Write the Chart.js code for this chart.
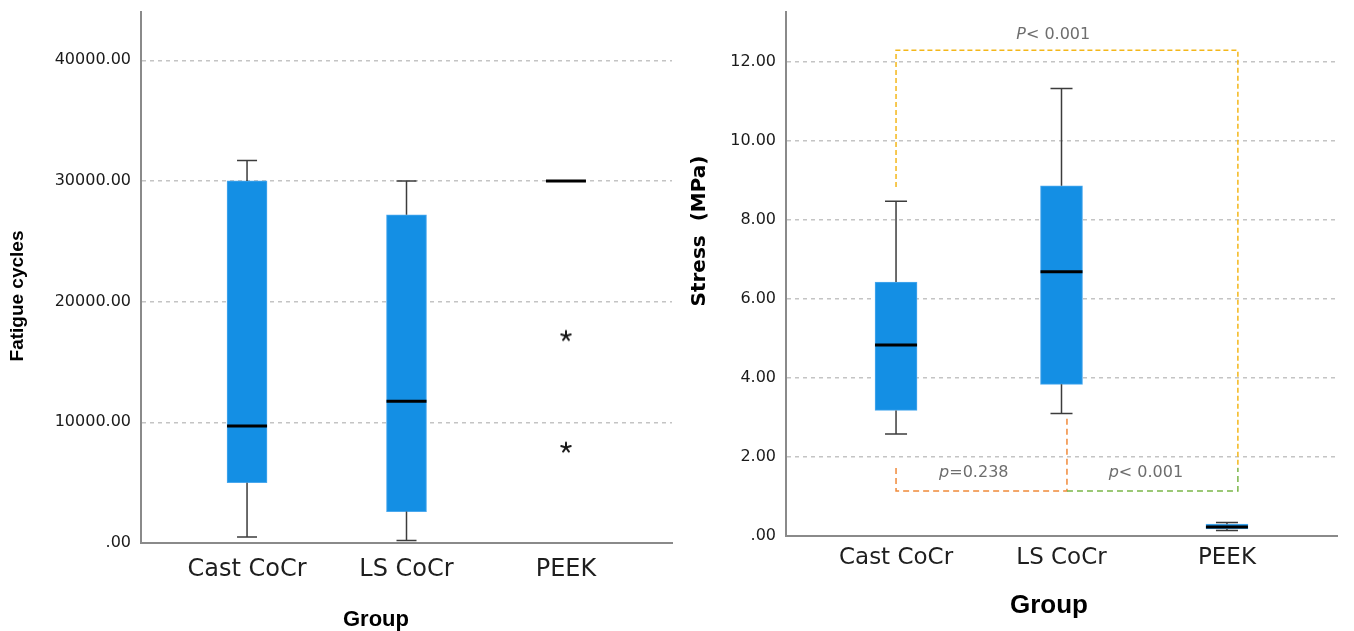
<!DOCTYPE html>
<html>
<head>
<meta charset="utf-8">
<script src="https://cdn.jsdelivr.net/npm/chart.js@4.4.1/dist/chart.umd.min.js"></script>
<style>
    html, body { margin: 0; padding: 0; background: #fff; }
    #wrap { position: relative; width: 1354px; height: 631px; overflow: hidden; }
    #left { position: absolute; left: 0; top: 0; }
    #right { position: absolute; left: 680px; top: 0; }
</style>
</head>
<body>
<div id="wrap">
    <canvas id="left" width="680" height="631" style="width:680px;height:631px"></canvas>
    <canvas id="right" width="674" height="631" style="width:674px;height:631px"></canvas>
</div>
<script>
const groups = ['Cast CoCr', 'LS CoCr', 'PEEK'];

// fatigue cycles (left panel)
const cycMin = [500, 200, 30000];
const cycQ1 = [5000, 2600, 30000];
const cycMedian = [9700, 11750, 30000];
const cycQ3 = [30000, 27200, 30000];
const cycMax = [31700, 30000, 30000];
const cycOutliers = [[], [], [17200, 7950]];
const cycTicks = [0, 10000, 20000, 30000, 40000];

// stress in MPa (right panel)
const stressMin = [2.58, 3.10, 0.14];
const stressQ1 = [3.18, 3.84, 0.18];
const stressMedian = [4.84, 6.69, 0.23];
const stressQ3 = [6.43, 8.87, 0.30];
const stressMax = [8.48, 11.33, 0.34];
const stressTicks = [0, 2, 4, 6, 8, 10, 12];

// significance brackets, in axis units (x = group index, y = MPa)
const brackets = [
    { color: '#f4b71a', dash: [5, 3], pts: [[1, 8.84], [1, 12.3], [3.066, 12.3], [3.066, 1.72]] },
    { color: '#f08a3a', dash: [6, 4], pts: [[1, 1.72], [1, 1.14], [2.033, 1.14], [2.033, 2.99]] },
    { color: '#7ab648', dash: [6, 4], pts: [[2.033, 1.14], [3.066, 1.14], [3.066, 1.72]] }
];
const pLabels = [
    { it: 'P', rest: '< 0.001', x: 1.95, y: 12.68 },
    { it: 'p', rest: '=0.238', x: 1.47, y: 1.6 },
    { it: 'p', rest: '< 0.001', x: 2.51, y: 1.6 }
];

const boxFill = '#148fe4';
const boxEdge = '#4aa8ee';

// five-armed asterisk marker for outliers
function asterisk() {
    const c = document.createElement('canvas');
    c.width = 14; c.height = 14;
    const g = c.getContext('2d');
    g.strokeStyle = '#1a1a1a';
    g.lineWidth = 2;
    g.lineCap = 'round';
    g.translate(7, 7.5);
    for (let k = 0; k < 5; k++) {
        const r = (-90 + k * 72) * Math.PI / 180;
        g.beginPath();
        g.moveTo(0, 0);
        g.lineTo(5 * Math.cos(r), 5 * Math.sin(r));
        g.stroke();
    }
    return c;
}

function extrasPlugin(d) {
    return {
        id: 'boxExtras',
        afterDatasetsDraw(chart) {
            const { ctx, scales: { x, y } } = chart;
            ctx.save();
            // whiskers
            ctx.strokeStyle = '#3c3c3c';
            ctx.lineWidth = 1.5;
            groups.forEach((g, i) => {
                const cx = x.getPixelForValue(i + 1);
                const hi = y.getPixelForValue(d.max[i]);
                const lo = y.getPixelForValue(d.min[i]);
                const q1 = y.getPixelForValue(d.q1[i]);
                const q3 = y.getPixelForValue(d.q3[i]);
                if (d.max[i] > d.q3[i]) {
                    ctx.beginPath();
                    ctx.moveTo(cx, q3); ctx.lineTo(cx, hi);
                    ctx.moveTo(cx - d.cap / 2, hi); ctx.lineTo(cx + d.cap / 2, hi);
                    ctx.stroke();
                }
                if (d.min[i] < d.q1[i]) {
                    ctx.beginPath();
                    ctx.moveTo(cx, q1); ctx.lineTo(cx, lo);
                    ctx.moveTo(cx - d.cap / 2, lo); ctx.lineTo(cx + d.cap / 2, lo);
                    ctx.stroke();
                }
            });
            // medians
            ctx.strokeStyle = '#000';
            ctx.lineWidth = 3;
            groups.forEach((g, i) => {
                const cx = x.getPixelForValue(i + 1);
                const my = y.getPixelForValue(d.median[i]);
                ctx.beginPath();
                ctx.moveTo(cx - d.boxW / 2, my); ctx.lineTo(cx + d.boxW / 2, my);
                ctx.stroke();
            });
            // brackets
            (d.brackets || []).forEach(b => {
                ctx.strokeStyle = b.color;
                ctx.lineWidth = 1.5;
                ctx.setLineDash(b.dash);
                ctx.beginPath();
                b.pts.forEach((p, k) => {
                    const px = x.getPixelForValue(p[0]);
                    const py = y.getPixelForValue(p[1]);
                    if (k === 0) ctx.moveTo(px, py); else ctx.lineTo(px, py);
                });
                ctx.stroke();
            });
            ctx.setLineDash([]);
            (d.labels || []).forEach(l => {
                const itFont = 'italic 16px "DejaVu Sans"';
                const font = '16px "DejaVu Sans"';
                ctx.font = itFont;
                const w1 = ctx.measureText(l.it).width;
                ctx.font = font;
                const w2 = ctx.measureText(l.rest).width;
                let px = x.getPixelForValue(l.x) - (w1 + w2) / 2;
                const py = y.getPixelForValue(l.y);
                ctx.fillStyle = '#6e6e6e';
                ctx.textBaseline = 'middle';
                ctx.textAlign = 'left';
                ctx.font = itFont;
                ctx.fillText(l.it, px, py);
                ctx.font = font;
                ctx.fillText(l.rest, px + w1, py);
            });
            ctx.restore();
        },
        afterDraw(chart) {
            const ctx = chart.ctx;
            ctx.save();
            ctx.fillStyle = '#000';
            ctx.textAlign = 'center';
            ctx.textBaseline = 'middle';
            ctx.font = d.yTitleFont;
            ctx.translate(d.yTitlePos[0], d.yTitlePos[1]);
            ctx.rotate(-Math.PI / 2);
            ctx.fillText(d.yTitle, 0, 0);
            ctx.restore();
            ctx.save();
            ctx.fillStyle = '#000';
            ctx.textAlign = 'center';
            ctx.textBaseline = 'middle';
            ctx.font = d.xTitleFont;
            ctx.fillText('Group', d.xTitlePos[0], d.xTitlePos[1]);
            ctx.restore();
        }
    };
}

function boxChart(id, d) {
    const outlierPts = [];
    (d.outliers || []).forEach((list, i) => list.forEach(v => outlierPts.push({ x: i + 1, y: v })));

    return new Chart(document.getElementById(id), {
        type: 'bar',
        data: {
            datasets: [
                {
                    type: 'bar',
                    data: groups.map((g, i) => ({ x: i + 1, y: [d.q1[i], d.q3[i]] })),
                    backgroundColor: boxFill,
                    borderColor: boxEdge,
                    borderWidth: 1,
                    borderSkipped: false,
                    barThickness: d.boxW,
                    grouped: false
                },
                {
                    type: 'scatter',
                    data: outlierPts,
                    pointStyle: asterisk(),
                    pointRadius: 7
                }
            ]
        },
        options: {
            responsive: false,
            animation: false,
            events: [],
            layout: { padding: { top: 12, right: d.padRight, left: 0, bottom: 0 } },
            plugins: { legend: { display: false }, tooltip: { enabled: false } },
            scales: {
                x: {
                    type: 'linear',
                    offset: false,
                    min: 0.335,
                    max: 3.665,
                    afterFit: s => { s.height = d.xH; s.paddingLeft = 0; s.paddingRight = 0; },
                    afterBuildTicks: s => { s.ticks = groups.map((g, i) => ({ value: i + 1 })); },
                    ticks: {
                        callback: v => groups[Math.round(v) - 1],
                        font: { family: 'DejaVu Sans', size: d.xFont },
                        color: '#1e1e1e',
                        padding: d.xPad,
                        autoSkip: false,
                        maxRotation: 0
                    },
                    grid: { display: false, drawTicks: false, offset: false },
                    border: { color: '#8a8a8a', width: 2 }
                },
                y: {
                    min: 0,
                    max: d.top,
                    afterFit: s => { s.width = d.yW; s.paddingTop = 0; s.paddingBottom = 0; },
                    afterBuildTicks: s => { s.ticks = d.ticks.map(v => ({ value: v })); },
                    ticks: {
                        callback: v => v === 0 ? '.00' : v.toFixed(2),
                        font: { family: 'DejaVu Sans', size: 16 },
                        color: '#1a1a1a',
                        padding: 10
                    },
                    grid: { color: '#c4c4c4', lineWidth: 1.5, drawTicks: false },
                    border: { color: '#8a8a8a', width: 2, dash: [4, 4] }
                }
            }
        },
        plugins: [extrasPlugin(d)]
    });
}

boxChart('left', {
    min: cycMin, q1: cycQ1, median: cycMedian, q3: cycQ3, max: cycMax,
    outliers: cycOutliers, ticks: cycTicks, top: 44000,
    boxW: 40, cap: 20, yW: 141, xH: 88, padRight: 7, xFont: 24, xPad: 12,
    yTitle: 'Fatigue cycles', yTitleFont: 'bold 19px "Liberation Sans"', yTitlePos: [18, 296],
    xTitleFont: 'bold 22px "Liberation Sans"', xTitlePos: [376, 620]
});

boxChart('right', {
    min: stressMin, q1: stressQ1, median: stressMedian, q3: stressQ3, max: stressMax,
    ticks: stressTicks, top: 13.27,
    boxW: 42, cap: 22, yW: 106, xH: 95, padRight: 17, xFont: 23, xPad: 8,
    brackets: brackets, labels: pLabels,
    yTitle: 'Stress  (MPa)', yTitleFont: 'bold 20px "DejaVu Sans"', yTitlePos: [20, 231],
    xTitleFont: 'bold 26px "Liberation Sans"', xTitlePos: [369, 606]
});
</script>
</body>
</html>
